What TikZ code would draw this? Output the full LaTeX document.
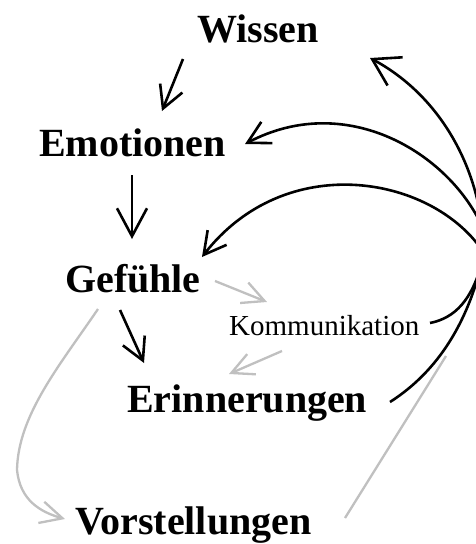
\documentclass[tikz,border=0pt]{standalone}
\usepackage{fontspec}
\setmainfont{Liberation Serif}
\usetikzlibrary{arrows.meta,calc}
\definecolor{softgray}{RGB}{192,192,192}
\tikzset{
  term/.style={font=\fontsize{40}{44}\selectfont\bfseries, inner sep=0pt, anchor=base west},
  note/.style={font=\fontsize{29}{32}\selectfont, inner sep=0pt, anchor=base west},
  link/.style={draw=black, line width=2.6pt},
  barb/.style={link, -{Straight Barb[length=22pt,width=24pt]}},
  bigbarb/.style={link, -{Straight Barb[length=28pt,width=30pt]}},
  faint/.style={draw=softgray, line width=2.3pt},
  faintbarb/.style={faint, -{Straight Barb[length=22pt,width=22pt]}}
}
\begin{document}
\begin{tikzpicture}[x=1pt,y=-1pt]
  \fill[white] (0,0) rectangle (476,544);
  \useasboundingbox (0,0) rectangle (476,544);

  % concepts
  \node[term] (wissen)    at (197,42)  {Wissen};
  \node[term] (emotionen) at (39,156)  {Emotionen};
  \node[term] (gefuehle)  at (65,292)  {Gefühle};
  \node[note] (komm)      at (229,335) {Kommunikation};
  \node[term] (erinn)     at (127,412) {Erinnerungen};
  \node[term] (vorst)     at (75,534)  {Vorstellungen};

  % loose ends of the feedback arcs, just past the right margin
  \coordinate (rW) at (482,225);
  \coordinate (rE) at (480,222);
  \coordinate (rG) at (482,250);
  \coordinate (rK) at (482,262);
  \coordinate (rR) at (482,262);
  \coordinate (rV) at (446,356);

  % grey links
  \draw[faintbarb] ($(gefuehle.base west)+(150,-11)$) -- ($(komm.base west)+(38,-33)$);
  \draw[faintbarb] ($(komm.base west)+(53,16)$) -- ($(erinn.base west)+(102,-38)$);
  \draw[faint] ($(gefuehle.base west)+(33,17)$) .. controls (60,365) and (18,415) .. (17,470);
  \draw[faintbarb] (17,470) .. controls (20,500) and (40,512) .. ($(vorst.base west)+(-10,-15)$);
  \draw[faint] ($(vorst.base west)+(270,-16)$) -- (rV);

  % main chain
  \draw[barb] ($(wissen.base west)+(-14,17)$) -- ($(emotionen.base west)+(123,-45)$);
  \draw[bigbarb] ($(emotionen.base west)+(93,19)$) -- ($(gefuehle.base west)+(67,-53)$);
  \draw[barb] ($(gefuehle.base west)+(55,18)$) -- ($(erinn.base west)+(17,-49)$);

  % feedback arcs
  \draw[link, -{Straight Barb[length=26pt,width=32pt]}] (rW) .. controls (472,150) and (430,90) .. ($(wissen.base west)+(173,16)$);
  \draw[barb] (rE) .. controls (444,150) and (344,92) .. ($(emotionen.base west)+(206,-12)$);
  \draw[barb] (rG) .. controls (430,175) and (285,150) .. ($(gefuehle.base west)+(137,-35)$);
  \draw[link] ($(komm.base west)+(201,-12)$) .. controls (455,318) and (472,300) .. (rK);
  \draw[link] ($(erinn.base west)+(263,-10)$) .. controls (440,370) and (468,320) .. (rR);
\end{tikzpicture}
\end{document}
